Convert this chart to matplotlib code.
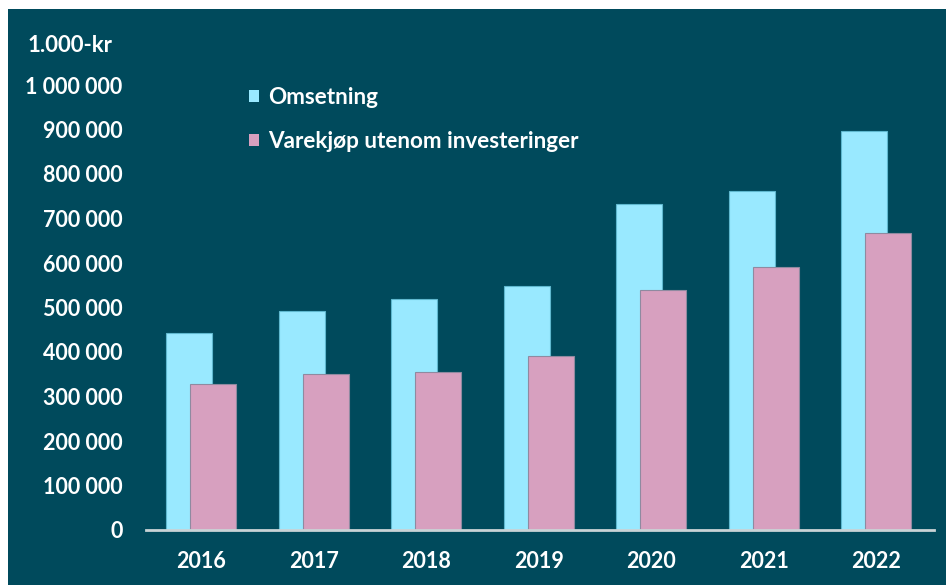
import matplotlib
matplotlib.use("Agg")
import matplotlib.pyplot as plt
from matplotlib.patches import Rectangle, Patch

years = ["2016", "2017", "2018", "2019", "2020", "2021", "2022"]
omsetning = [442000, 492000, 519000, 548000, 733000, 762000, 897000]
varekjop = [328000, 350000, 355000, 391000, 539000, 591000, 667000]
series_names = ["Omsetning", "Varekjøp utenom investeringer"]
yticks = [0, 100000, 200000, 300000, 400000, 500000, 600000, 700000, 800000, 900000, 1000000]
ytick_labels = ["0", "100 000", "200 000", "300 000", "400 000", "500 000", "600 000",
                "700 000", "800 000", "900 000", "1 000 000"]
unit_label = "1.000-kr"

BG = "#004a5c"
CYAN = "#99e9ff"
PINK = "#d7a0bf"
FONT = ["Lato", "DejaVu Sans"]
FS = 15.5
FS_LEG = 16.2

plt.rcParams['font.family'] = FONT
W, H = 946, 585
fig = plt.figure(figsize=(W / 100, H / 100), dpi=100)
fig.patch.set_facecolor("white")
fig.patches.append(Rectangle((8 / W, 0), 1 - 8 / W, 1 - 9 / H, transform=fig.transFigure,
                             facecolor=BG, edgecolor="none", zorder=-10))

ax = fig.add_axes([146 / W, 1 - 530 / H, (933.5 - 146) / W, (530 - 85) / H])
ax.set_facecolor("none")
x = list(range(len(years)))
w = 0.41
off = 0.107
ax.bar([i - off for i in x], omsetning, width=w, color=CYAN, edgecolor="#5fb8cf",
       linewidth=0.8, zorder=2)
ax.bar([i + off for i in x], varekjop, width=w, color=PINK, edgecolor="#8f8aa0",
       linewidth=0.8, zorder=3)
ax.set_xlim(-0.49, 6.51)
ax.set_ylim(0, 1000000)
ax.set_yticks(yticks)
ax.set_yticklabels(ytick_labels)
ax.set_xticks(x)
ax.set_xticklabels(years)
for s in ["top", "right", "left"]:
    ax.spines[s].set_visible(False)
ax.spines["bottom"].set_color("#c9d3d6")
ax.spines["bottom"].set_linewidth(2)
ax.spines["bottom"].set_zorder(4)
ax.tick_params(axis="both", length=0, colors="white", labelsize=FS)
ax.tick_params(axis="y", pad=17)
ax.tick_params(axis="x", pad=15)
for lab in ax.get_xticklabels() + ax.get_yticklabels():
    lab.set_fontweight("bold")

fig.text(28 / W, 1 - 46 / H, unit_label, color="white", fontsize=FS + 0.5, fontweight="bold",
         ha="left", va="center")

handles = [Patch(facecolor=CYAN, edgecolor="none"), Patch(facecolor=PINK, edgecolor="none")]
leg = fig.legend(handles, series_names, loc="upper left",
                 bbox_to_anchor=(238 / W, 1 - 76 / H), frameon=False,
                 handlelength=0.42, handleheight=0.42, handletextpad=0.42,
                 labelspacing=1.0, borderpad=0,
                 prop={"size": FS_LEG, "weight": "bold", "family": FONT})
for t in leg.get_texts():
    t.set_color("white")

fig.savefig("out.png", dpi=100, facecolor=fig.get_facecolor())
